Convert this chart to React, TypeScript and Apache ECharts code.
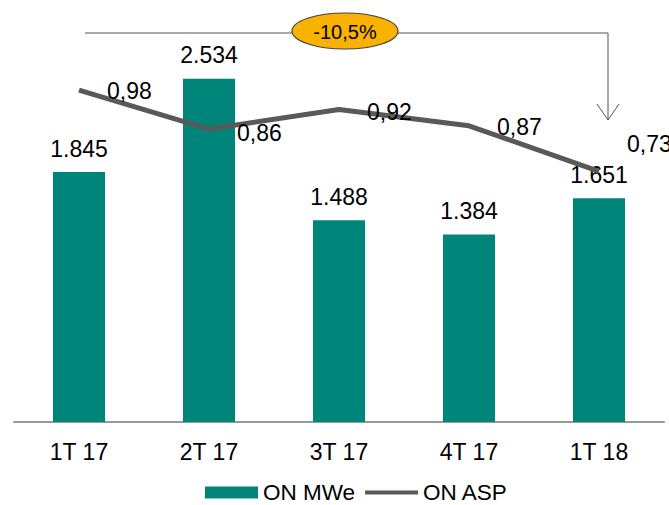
import React, { useEffect, useRef } from "react";
import * as echarts from "echarts";

const categories = ["1T 17", "2T 17", "3T 17", "4T 17", "1T 18"];
const mweValues = [1845, 2534, 1488, 1384, 1651];
const aspValues = [0.98, 0.86, 0.92, 0.87, 0.73];
const aspLabelDy = [1, 4, 2, 1, -27];
const changeLabel = "-10,5%";

const TEAL = "#00857b";
const GREY = "#595959";
const FONT = "Liberation Sans, Arial, sans-serif";

export default function App() {
  const ref = useRef<HTMLDivElement>(null);
  useEffect(() => {
    const chart = echarts.init(ref.current!, null, { renderer: "svg" });
    chart.setOption({
      animation: false,
      textStyle: { fontFamily: FONT, color: "#000" },
      grid: { left: 14, right: 5, top: 22, bottom: 83, containLabel: false },
      legend: {
        left: 200,
        top: 476,
        itemGap: 10,
        itemWidth: 53,
        itemHeight: 12,
        symbolKeepAspect: true,
        textStyle: { fontSize: 22.5, lineHeight: 22, color: "#000", fontFamily: FONT },
        data: [
          { name: "ON MWe", icon: "rect" },
          { name: "ON ASP", icon: "path://M0,0H55V4H0Z", itemStyle: { color: GREY } },
        ],
      },
      xAxis: {
        type: "category",
        data: categories,
        axisLine: { lineStyle: { color: "#999", width: 2 } },
        axisTick: { show: false },
        axisLabel: { fontSize: 23, color: "#000", margin: 18, fontFamily: FONT },
      },
      yAxis: [
        { type: "value", min: 0, max: 2952, show: false, splitLine: { show: false } },
        { type: "value", min: -0.0415, max: 1.1893, show: false, splitLine: { show: false } },
      ],
      series: [
        {
          name: "ON MWe",
          type: "bar",
          data: mweValues,
          barWidth: 52,
          itemStyle: { color: TEAL },
          label: {
            show: true,
            position: "top",
            distance: 12,
            fontSize: 23,
            color: "#000",
            fontFamily: FONT,
            formatter: (p: any) => p.value.toLocaleString("de-DE"),
          },
          z: 2,
        },
        {
          name: "ON ASP",
          type: "line",
          yAxisIndex: 1,
          data: aspValues,
          symbol: "none",
          lineStyle: { color: GREY, width: 5 },
          itemStyle: { color: GREY },
          z: 3,
        },
        {
          name: "ASP labels",
          type: "scatter",
          yAxisIndex: 1,
          data: aspValues.map((v, i) => ({
            value: v,
            label: { offset: [0, aspLabelDy[i]] },
          })),
          symbolSize: 0,
          itemStyle: { color: "#000", opacity: 1 },
          silent: true,
          label: {
            show: true,
            position: "right",
            distance: 28,
            fontSize: 23,
            color: "#000",
            opacity: 1,
            fontFamily: FONT,
            formatter: (p: any) => Number(p.value).toFixed(2).replace(".", ","),
          },
          z: 4,
        },
      ],
      graphic: [
        {
          type: "polyline",
          shape: { points: [[85, 33], [608, 33], [608, 120]] },
          style: { stroke: "#555", lineWidth: 1, fill: null },
        },
        {
          type: "polyline",
          shape: { points: [[597, 104], [608, 120], [619, 104]] },
          style: { stroke: "#555", lineWidth: 1, fill: null },
        },
        {
          type: "ellipse",
          shape: { cx: 345, cy: 31, rx: 53, ry: 18 },
          style: { fill: "#f9b200", stroke: "#444", lineWidth: 1.2 },
        },
        {
          type: "text",
          x: 345,
          y: 32,
          style: {
            text: changeLabel,
            fontSize: 20,
            fontFamily: FONT,
            fill: "#000",
            align: "center",
            verticalAlign: "middle",
          },
        },
      ],
    });
    return () => chart.dispose();
  }, []);
  return (
    <div
      ref={ref}
      style={{ position: "absolute", left: 0, top: 0, width: 669, height: 505 }}
    />
  );
}
